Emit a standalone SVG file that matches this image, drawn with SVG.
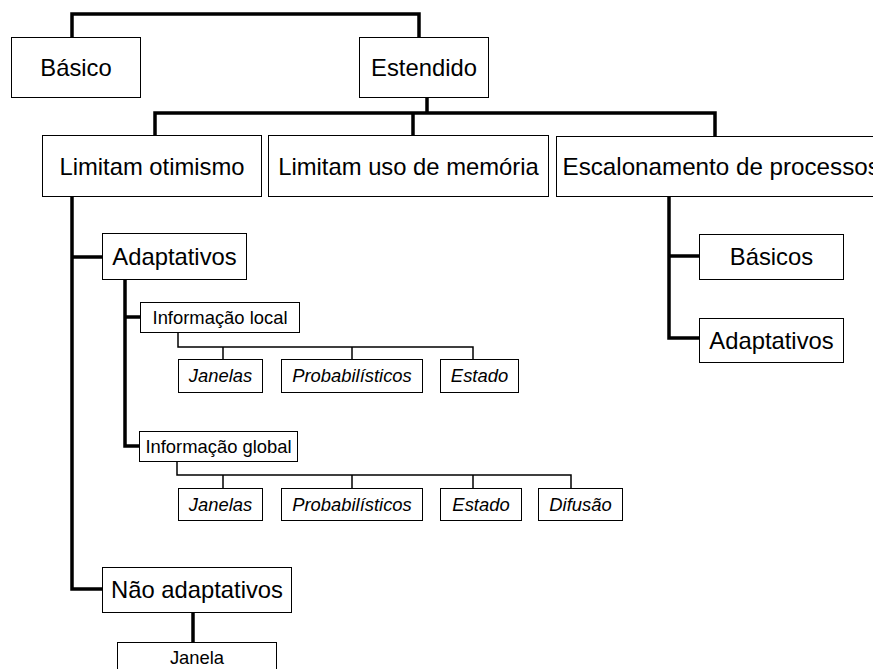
<svg xmlns="http://www.w3.org/2000/svg" width="873" height="669" viewBox="0 0 873 669">
<style>
.box{fill:#fff;stroke:#000;stroke-width:1}
.t{font-family:"Liberation Sans",Arial,sans-serif;fill:#000;text-anchor:middle}
.l{font-size:23.8px}
.m{font-size:18.4px}
.i{font-size:18.4px;font-style:italic}
.thick{fill:none;stroke:#000;stroke-width:3.5;stroke-linejoin:miter;stroke-linecap:square}
.thin{fill:none;stroke:#000;stroke-width:1.5;stroke-linecap:square}
</style>
<rect width="873" height="669" fill="#fff"/>
<g id="connectors">
<path class="thick" d="M72 37V14H419V37"/>
<path class="thick" d="M427 97V113M155 135V113H715V136M413 113V135"/>
<path class="thick" d="M72 196V589H102M72 257H102"/>
<path class="thick" d="M125 279V446H139M125 317H140"/>
<path class="thick" d="M669 196V338H699M669 256H699"/>
<path class="thick" d="M193 612V642"/>
<path class="thin" d="M178 332V347H473V359M223 347V359M352 347V359"/>
<path class="thin" d="M177 461V475H571V488M223 475V488M352 475V488M473 475V488"/>
</g>
<g id="basico"><rect class="box" x="11.5" y="37.5" width="129" height="60"/><text class="t l" x="76" y="76">Básico</text></g>
<g id="estendido"><rect class="box" x="359.5" y="37.5" width="129" height="60"/><text class="t l" x="424" y="76">Estendido</text></g>
<g id="limitam-otimismo"><rect class="box" x="42.5" y="135.5" width="219" height="61"/><text class="t l" x="152" y="174.5">Limitam otimismo</text></g>
<g id="limitam-memoria"><rect class="box" x="268.5" y="135.5" width="280" height="61"/><text class="t l" x="408.5" y="174.5">Limitam uso de memória</text></g>
<g id="escalonamento"><rect class="box" x="556.5" y="136.5" width="330" height="60"/><text class="t l" x="562.5" y="175" style="text-anchor:start;font-size:24.2px">Escalonamento de processos</text></g>
<g id="basicos"><rect class="box" x="699.5" y="234.5" width="144" height="45"/><text class="t l" x="771.5" y="265">Básicos</text></g>
<g id="adaptativos-esc"><rect class="box" x="699.5" y="318.5" width="144" height="44"/><text class="t l" x="771.5" y="348.5">Adaptativos</text></g>
<g id="adaptativos"><rect class="box" x="102.5" y="233.5" width="144" height="46"/><text class="t l" x="174.5" y="264.5">Adaptativos</text></g>
<g id="info-local"><rect class="box" x="140.5" y="302.5" width="159" height="30"/><text class="t m" x="220" y="323.5">Informação local</text></g>
<g id="local-janelas"><rect class="box" x="178.5" y="359.5" width="84" height="33"/><text class="t i" x="220.5" y="382">Janelas</text></g>
<g id="local-prob"><rect class="box" x="281.5" y="359.5" width="141" height="33"/><text class="t i" x="352" y="382">Probabilísticos</text></g>
<g id="local-estado"><rect class="box" x="440.5" y="359.5" width="78" height="33"/><text class="t i" x="479.5" y="382">Estado</text></g>
<g id="info-global"><rect class="box" x="139.5" y="431.5" width="158" height="30"/><text class="t m" x="218.5" y="452.5">Informação global</text></g>
<g id="global-janelas"><rect class="box" x="178.5" y="488.5" width="84" height="32"/><text class="t i" x="220.5" y="510.5">Janelas</text></g>
<g id="global-prob"><rect class="box" x="281.5" y="488.5" width="141" height="32"/><text class="t i" x="352" y="510.5">Probabilísticos</text></g>
<g id="global-estado"><rect class="box" x="440.5" y="488.5" width="81" height="32"/><text class="t i" x="481" y="510.5">Estado</text></g>
<g id="global-difusao"><rect class="box" x="538.5" y="488.5" width="84" height="32"/><text class="t i" x="580.5" y="510.5">Difusão</text></g>
<g id="nao-adaptativos"><rect class="box" x="102.5" y="567.5" width="189" height="45"/><text class="t l" x="197" y="598">Não adaptativos</text></g>
<g id="janela"><rect class="box" x="117.5" y="642.5" width="159" height="40"/><text class="t m" x="197" y="664">Janela</text></g>
</svg>
